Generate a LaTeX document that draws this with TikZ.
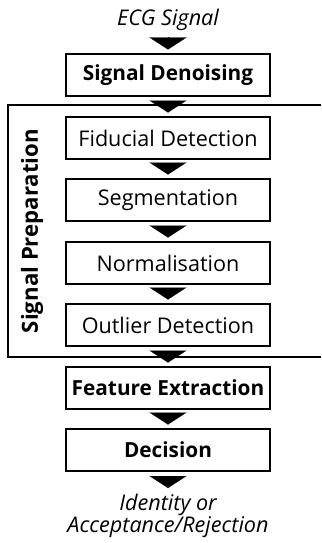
\documentclass[tikz,border=0pt]{standalone}
\usepackage{fontspec}
\setmainfont{Open Sans}
\usetikzlibrary{arrows.meta}
\begin{document}
\begin{tikzpicture}[x=1pt, y=-1pt,
    every node/.style={outer sep=0pt, font=\fontsize{21.6}{22}\selectfont},
    stage/.style={draw, line width=1.5pt, minimum width=204pt, minimum height=42pt, inner sep=0pt},
    key/.style={stage, font=\fontsize{20.8}{22}\selectfont\bfseries},
    flow/.style={line width=0.1pt, -{Triangle[width=37pt, length=12pt]}, shorten <=4.5pt, shorten >=4.5pt}]
    \useasboundingbox (0,0) rectangle (321,543);

    \node[inner sep=0pt, text height=15.5pt, text depth=5pt, font=\fontsize{21.6}{22}\selectfont\itshape](ecg) at (168, 20) {ECG Signal};
    \node[key](denoise) at (168, 75) {Signal Denoising};

    % signal preparation block
    \draw[line width=1.8pt] (321,105) -| (8,357) -- (321,357);
    \node[rotate=90, font=\fontsize{22.2}{22}\selectfont\bfseries](prep) at (32, 231) {Signal Preparation};
    \node[stage](fid) at (168, 138) {Fiducial Detection};
    \node[stage](seg) at (168, 200) {Segmentation};
    \node[stage](norm) at (168, 263) {Normalisation};
    \node[stage](outl) at (168, 325) {Outlier Detection};

    \node[key](feat) at (168, 388) {Feature Extraction};
    \node[key](dec) at (168, 450) {Decision};
    \node[anchor=north, inner sep=0pt, align=center, font=\fontsize{21.6}{22}\selectfont\itshape](out) at (168, 494.5) {Identity or\\Acceptance/Rejection};

    \draw[flow, shorten <=6.75pt] (ecg) -- (denoise);
    \draw[flow] (denoise) -- (fid);
    \draw[flow] (fid) -- (seg);
    \draw[flow] (seg) -- (norm);
    \draw[flow] (norm) -- (outl);
    \draw[flow] (outl) -- (feat);
    \draw[flow] (feat) -- (dec);
    \draw[flow, shorten >=6.5pt] (dec) -- (out);
\end{tikzpicture}
\end{document}
